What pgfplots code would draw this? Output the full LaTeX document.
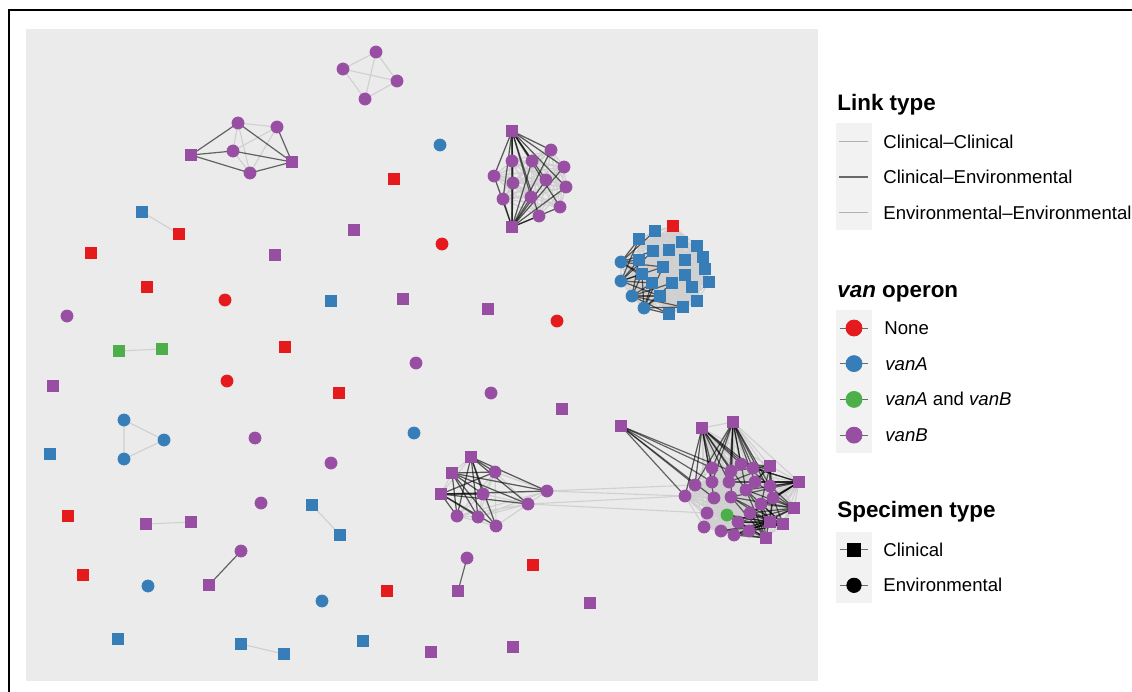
\documentclass[border=0pt]{standalone}
\usepackage{pgfplots}
\pgfplotsset{compat=1.18}
\usepackage{fontspec}
\setmainfont{Liberation Sans}

\definecolor{cRed}{HTML}{E41A1C}
\definecolor{cBlue}{HTML}{377EB8}
\definecolor{cGreen}{HTML}{4DAF4A}
\definecolor{cPurple}{HTML}{984EA3}
\definecolor{panel}{HTML}{EBEBEB}
\definecolor{keybg}{HTML}{F2F2F2}
\definecolor{edgelight}{HTML}{D0D0D0}
\definecolor{edgedark}{HTML}{6A6A6A}

\pgfplotsset{
  sq/.style={only marks, mark=square*, mark size=2.85pt},
  ci/.style={only marks, mark=*, mark size=3pt},
  light/.style={no markers, color=edgelight, line width=0.55pt, unbounded coords=jump, filter discard warning=false},
  dark/.style={no markers, color=black, opacity=0.58, line width=0.6pt},
}

% all pairs of a node list -> light edges
\newcommand\lightclique[1]{%
  \foreach \xa/\ya [count=\i] in #1 {%
    \foreach \xb/\yb [count=\j] in #1 {%
      \ifnum\j>\i\relax\xdef\lightbuf{\lightbuf(\xa,\ya)(\xb,\yb)(nan,nan)}\fi}}}
% one node to a list -> dark edges, one plot each so overlaps darken
\newcommand\darkstar[2]{%
  \foreach \xb/\yb in #2 {%
    \xdef\darkbuf{\unexpanded\expandafter{\darkbuf}\noexpand\addplot[dark] coordinates {(#1)(\xb,\yb)};}}}

\newcommand\lbl[1]{\fontsize{9.3}{11}\selectfont #1}
\newcommand\ttl[1]{\fontsize{11.2}{13}\selectfont\bfseries #1}

\begin{document}
\begin{tikzpicture}
\gdef\lightbuf{}\gdef\darkbuf{}
% node lists (pixel positions)
\def\Cone{376/52,343/69,397/81,365/99}
\def\Ctwo{238/123,277/127,233/151,250/173}
\def\Cthree{551/150,512/161,532/161,564/167,494/176,513/183,546/180,566/187,503/199,531/197,560/207,539/216}
\edef\Lthree{512/131,512/227,\Cthree}
\def\Sfour{655/231,639/239,682/242,697/246,653/251,669/250,703/257,685/260,639/260,663/267,705/269,685/275,642/274,709/282,652/283,672/283,692/287,660/296,697/301,683/307,669/314}
\edef\Lfour{673/226,\Sfour,621/262,621/281,632/296,644/308}
\def\Cfive{495/472,483/494,547/491,528/504,457/516,478/517,496/526}
\edef\Lfive{471/457,452/473,441/494,\Cfive}
\def\Csix{712/468,731/471,741/464,753/468,695/485,712/482,729/482,755/482,770/486,685/496,714/498,731/497,746/490,761/504,773/498,707/513,750/513,704/527,721/531,738/522,734/535,749/531,727/515}
\def\Ssix{702/428,733/422,770/466,799/482,794/508,770/522,783/524,766/538}
\edef\Lsix{\Csix,\Ssix}

\lightclique{\Cone}
\lightclique{\Ctwo}
\lightclique{\Lthree}
\lightclique{\Lfour}
\lightclique{\Lfive}
\lightclique{\Lsix}

\def\Da{238/123,233/151,250/173}\darkstar{191,155}{\Da}
\def\Db{238/123,277/127,233/151,250/173}\darkstar{292,162}{\Db}
\darkstar{512,131}{\Cthree}
\darkstar{512,227}{\Cthree}
\def\Ea{655/231,639/239,653/251,639/260,663/267,642/274,652/283}\darkstar{621,262}{\Ea}
\def\Eb{639/239,653/251,639/260,642/274,652/283,660/296,663/267}\darkstar{621,281}{\Eb}
\def\Ec{639/260,642/274,652/283,660/296,669/314,672/283,683/307}\darkstar{632,296}{\Ec}
\def\Ed{642/274,652/283,660/296,669/314,683/307,672/283,663/267}\darkstar{644,308}{\Ed}
\darkstar{471,457}{\Cfive}
\darkstar{452,473}{\Cfive}
\darkstar{441,494}{\Cfive}
\def\Fa{712/468,731/471,695/485,712/482,685/496,729/482,753/468,746/490,714/498,741/464,770/486}\darkstar{702,428}{\Fa}
\def\Fb{712/468,731/471,741/464,753/468,729/482,755/482,770/486,746/490,712/482,695/485,773/498,731/497}\darkstar{733,422}{\Fb}
\def\Fc{741/464,753/468,755/482,770/486,773/498,746/490,761/504,731/471,729/482}\darkstar{770,466}{\Fc}
\def\Fd{770/486,773/498,761/504,755/482,750/513,746/490,738/522,753/468,731/497,729/482,741/464}\darkstar{799,482}{\Fd}
\def\Fe{773/498,761/504,750/513,749/531,738/522,770/486,746/490,734/535,731/497,755/482}\darkstar{794,508}{\Fe}
\def\Ff{761/504,750/513,749/531,738/522,734/535,773/498,721/531,746/490,727/515,731/497}
\darkstar{770,522}{\Ff}\darkstar{783,524}{\Ff}\darkstar{766,538}{\Ff}
\def\Fg{685/496,695/485,712/482,712/468,714/498,731/471}\darkstar{621,426}{\Fg}
\def\Fh{209/585}\darkstar{241,551}{\Fh}
\def\Fi{458/591}\darkstar{467,558}{\Fi}

\begin{axis}[
  width=566pt, height=345.5pt, scale only axis,
  hide axis, clip=false,
  xmin=0, xmax=1132, ymin=0, ymax=691, y dir=reverse,
]
% outer frame and panel
\addplot[black, line width=1pt] coordinates {(9,700) (9,10) (1140,10)};
\addplot[fill=panel, draw=none] coordinates {(26,29) (818,29) (818,681) (26,681)} -- cycle;

% edges
\edef\mytmp{\noexpand\addplot[light] coordinates {\lightbuf};}\mytmp
\addplot[light] coordinates {(142,212) (179,234) (nan,nan) (119,351) (162,349) (nan,nan)
  (146,524) (191,522) (nan,nan) (312,505) (340,535) (nan,nan) (241,644) (284,654) (nan,nan)
  (124,420) (164,440) (124,459) (124,420) (nan,nan)
  (547,491) (685,496) (nan,nan) (528,504) (685,496) (nan,nan) (547,491) (695,485) (nan,nan) (528,504) (707,513)};
\darkbuf

% nodes
\addplot[ci, cPurple] coordinates {(376,52) (343,69) (397,81) (365,99)
  (238,123) (277,127) (233,151) (250,173)
  (551,150) (512,161) (532,161) (564,167) (494,176) (513,183) (546,180) (566,187) (503,199) (531,197) (560,207) (539,216)
  (67,316) (416,363) (491,393) (255,438) (331,463) (261,503) (241,551) (467,558)
  (495,472) (483,494) (547,491) (528,504) (457,516) (478,517) (496,526)
  (712,468) (731,471) (741,464) (753,468) (695,485) (712,482) (729,482) (755,482) (770,486) (685,496) (714,498)
  (731,497) (746,490) (761,504) (773,498) (707,513) (750,513) (704,527) (721,531) (738,522) (734,535) (749,531)};
\addplot[sq, cPurple] coordinates {(191,155) (292,162) (512,131) (512,227) (354,230) (275,255) (403,299) (488,309)
  (53,386) (562,409) (621,426) (146,524) (191,522) (209,585) (458,591) (590,603) (431,652) (513,647)
  (471,457) (452,473) (441,494)
  (702,428) (733,422) (770,466) (799,482) (794,508) (770,522) (783,524) (766,538)};
\addplot[sq, cRed] coordinates {(394,179) (179,234) (91,253) (147,287) (285,347) (339,393) (68,516) (83,575) (387,591) (533,565) (673,226)};
\addplot[ci, cRed] coordinates {(442,244) (225,300) (557,321) (227,381)};
\addplot[sq, cBlue] coordinates {(142,212) (331,301) (50,454) (312,505) (340,535) (118,639) (241,644) (284,654) (363,641)
  (655,231) (639,239) (682,242) (697,246) (653,251) (669,250) (703,257) (685,260) (639,260) (663,267) (705,269)
  (685,275) (642,274) (709,282) (652,283) (672,283) (692,287) (660,296) (697,301) (683,307) (669,314)};
\addplot[ci, cBlue] coordinates {(440,145) (124,420) (164,440) (124,459) (414,433) (148,586) (322,601)
  (621,262) (621,281) (632,296) (644,308)};
\addplot[sq, cGreen] coordinates {(119,351) (162,349)};
\addplot[ci, cGreen] coordinates {(727,515)};

% legend: Link type
\node[anchor=base west, inner sep=0] at (axis cs:837,110) {\ttl{Link type}};
\addplot[fill=keybg, draw=none] coordinates {(836,123) (872,123) (872,230) (836,230)} -- cycle;
\addplot[color=edgelight!85!black, line width=0.6pt] coordinates {(839,141.5) (868,141.5)};
\addplot[color=edgedark, line width=0.7pt] coordinates {(839,177) (868,177)};
\addplot[color=edgelight!85!black, line width=0.6pt] coordinates {(839,212.5) (868,212.5)};
\node[anchor=base west, inner sep=0] at (axis cs:883,148) {\lbl{Clinical--Clinical}};
\node[anchor=base west, inner sep=0] at (axis cs:883,183.5) {\lbl{Clinical--Environmental}};
\node[anchor=base west, inner sep=0] at (axis cs:883,219) {\lbl{Environmental--Environmental}};

% legend: van operon
\node[anchor=base west, inner sep=0] at (axis cs:837,297) {\ttl{\textit{van} operon}};
\addplot[fill=keybg, draw=none] coordinates {(836,310) (872,310) (872,453) (836,453)} -- cycle;
\addplot[color=edgedark, line width=0.5pt] coordinates {(840,328) (868,328)};
\addplot[color=edgedark, line width=0.5pt] coordinates {(840,363.6) (868,363.6)};
\addplot[color=edgedark, line width=0.5pt] coordinates {(840,399.4) (868,399.4)};
\addplot[color=edgedark, line width=0.5pt] coordinates {(840,435.1) (868,435.1)};
\addplot[ci, cRed, mark size=4pt] coordinates {(854,328)};
\addplot[ci, cBlue, mark size=4pt] coordinates {(854,363.6)};
\addplot[ci, cGreen, mark size=4pt] coordinates {(854,399.4)};
\addplot[ci, cPurple, mark size=4pt] coordinates {(854,435.1)};
\node[anchor=base west, inner sep=0] at (axis cs:884,334.5) {\lbl{None}};
\node[anchor=base west, inner sep=0] at (axis cs:885,370.1) {\lbl{\textit{vanA}}};
\node[anchor=base west, inner sep=0] at (axis cs:885,405.9) {\lbl{\textit{vanA} and \textit{vanB}}};
\node[anchor=base west, inner sep=0] at (axis cs:885,441.6) {\lbl{\textit{vanB}}};

% legend: Specimen type
\node[anchor=base west, inner sep=0] at (axis cs:837,517) {\ttl{Specimen type}};
\addplot[fill=keybg, draw=none] coordinates {(836,532) (872,532) (872,603) (836,603)} -- cycle;
\addplot[color=edgedark, line width=0.5pt] coordinates {(840,549.8) (868,549.8)};
\addplot[color=edgedark, line width=0.5pt] coordinates {(840,585.3) (868,585.3)};
\addplot[sq, black, mark size=3.4pt] coordinates {(854,549.8)};
\addplot[ci, black, mark size=3.6pt] coordinates {(854,585.3)};
\node[anchor=base west, inner sep=0] at (axis cs:883,556.3) {\lbl{Clinical}};
\node[anchor=base west, inner sep=0] at (axis cs:883,591.8) {\lbl{Environmental}};
\end{axis}
\pgfresetboundingbox
\path[use as bounding box] (current axis.south west) rectangle (current axis.north east);
\end{tikzpicture}
\end{document}
